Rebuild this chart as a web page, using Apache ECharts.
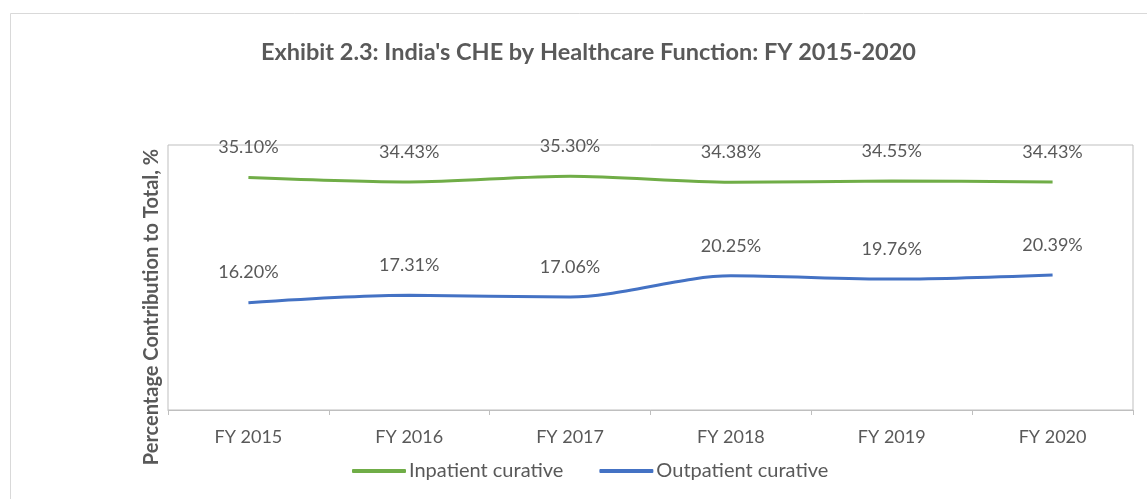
<!DOCTYPE html>
<html>
<head>
<meta charset="utf-8">
<script src="https://cdn.jsdelivr.net/npm/echarts@6/dist/echarts.min.js"></script>
<style>
  html, body { margin: 0; padding: 0; background: #fff; }
  #chart { width: 1147px; height: 499px; }
</style>
</head>
<body>
<div id="chart"></div>
<script>
var years = ['FY 2015', 'FY 2016', 'FY 2017', 'FY 2018', 'FY 2019', 'FY 2020'];
var inpatient = [35.10, 34.43, 35.30, 34.38, 34.55, 34.43];
var outpatient = [16.20, 17.31, 17.06, 20.25, 19.76, 20.39];

var font = 'Lato, "Open Sans", sans-serif';
var grey = '#595959';

var chart = echarts.init(document.getElementById('chart'));

function labelOpt() {
  return {
    show: true,
    position: 'top',
    distance: 21,
    color: grey,
    fontSize: 18,
    fontFamily: font,
    formatter: function (p) { return p.value.toFixed(2) + '%'; }
  };
}

var option = {
  backgroundColor: '#fff',
  animation: false,
  title: {
    text: "Exhibit 2.3: India's CHE by Healthcare Function: FY 2015-2020",
    left: 256,
    top: 35,
    textStyle: { color: grey, fontSize: 23.5, fontWeight: 'bold', fontFamily: font }
  },
  graphic: [
    {
      type: 'rect',
      shape: { x: 10.5, y: 13.5, width: 1160, height: 520 },
      style: { fill: 'none', stroke: '#d9d9d9', lineWidth: 1 },
      silent: true
    },
    {
      type: 'text',
      x: 152,
      y: 307,
      rotation: Math.PI / 2,
      style: {
        text: 'Percentage Contribution to Total, %',
        fill: grey,
        font: 'bold 20px ' + font,
        align: 'center',
        verticalAlign: 'middle'
      }
    }
  ],
  legend: {
    top: 456,
    left: 347,
    itemWidth: 54,
    itemHeight: 4,
    itemGap: 36,
    icon: 'roundRect',
    textStyle: { color: grey, fontSize: 20, fontFamily: font, padding: [0, 0, 0, -2] },
    data: ['Inpatient curative', 'Outpatient curative']
  },
  grid: {
    left: 168,
    right: 14,
    top: 145,
    bottom: 89,
    show: true,
    borderColor: '#bfbfbf',
    borderWidth: 1
  },
  xAxis: {
    type: 'category',
    data: years,
    boundaryGap: true,
    axisLine: { lineStyle: { color: '#bfbfbf' } },
    axisTick: { show: true, length: 5, lineStyle: { color: '#bfbfbf' } },
    axisLabel: { color: grey, fontSize: 18, fontFamily: font, margin: 18 }
  },
  yAxis: {
    type: 'value',
    min: 0,
    max: 40,
    interval: 10,
    axisLine: { show: false },
    axisTick: { show: false },
    axisLabel: { show: false },
    splitLine: { show: false }
  },
  series: [
    {
      name: 'Inpatient curative',
      type: 'line',
      data: inpatient,
      smooth: 0.3,
      symbol: 'circle',
      symbolSize: 0,
      lineStyle: { width: 3, color: '#70ad47' },
      itemStyle: { color: '#70ad47' },
      label: labelOpt()
    },
    {
      name: 'Outpatient curative',
      type: 'line',
      data: outpatient,
      smooth: 0.3,
      symbol: 'circle',
      symbolSize: 0,
      lineStyle: { width: 3, color: '#4472c4' },
      itemStyle: { color: '#4472c4' },
      label: labelOpt()
    }
  ]
};

chart.setOption(option);
</script>
</body>
</html>
